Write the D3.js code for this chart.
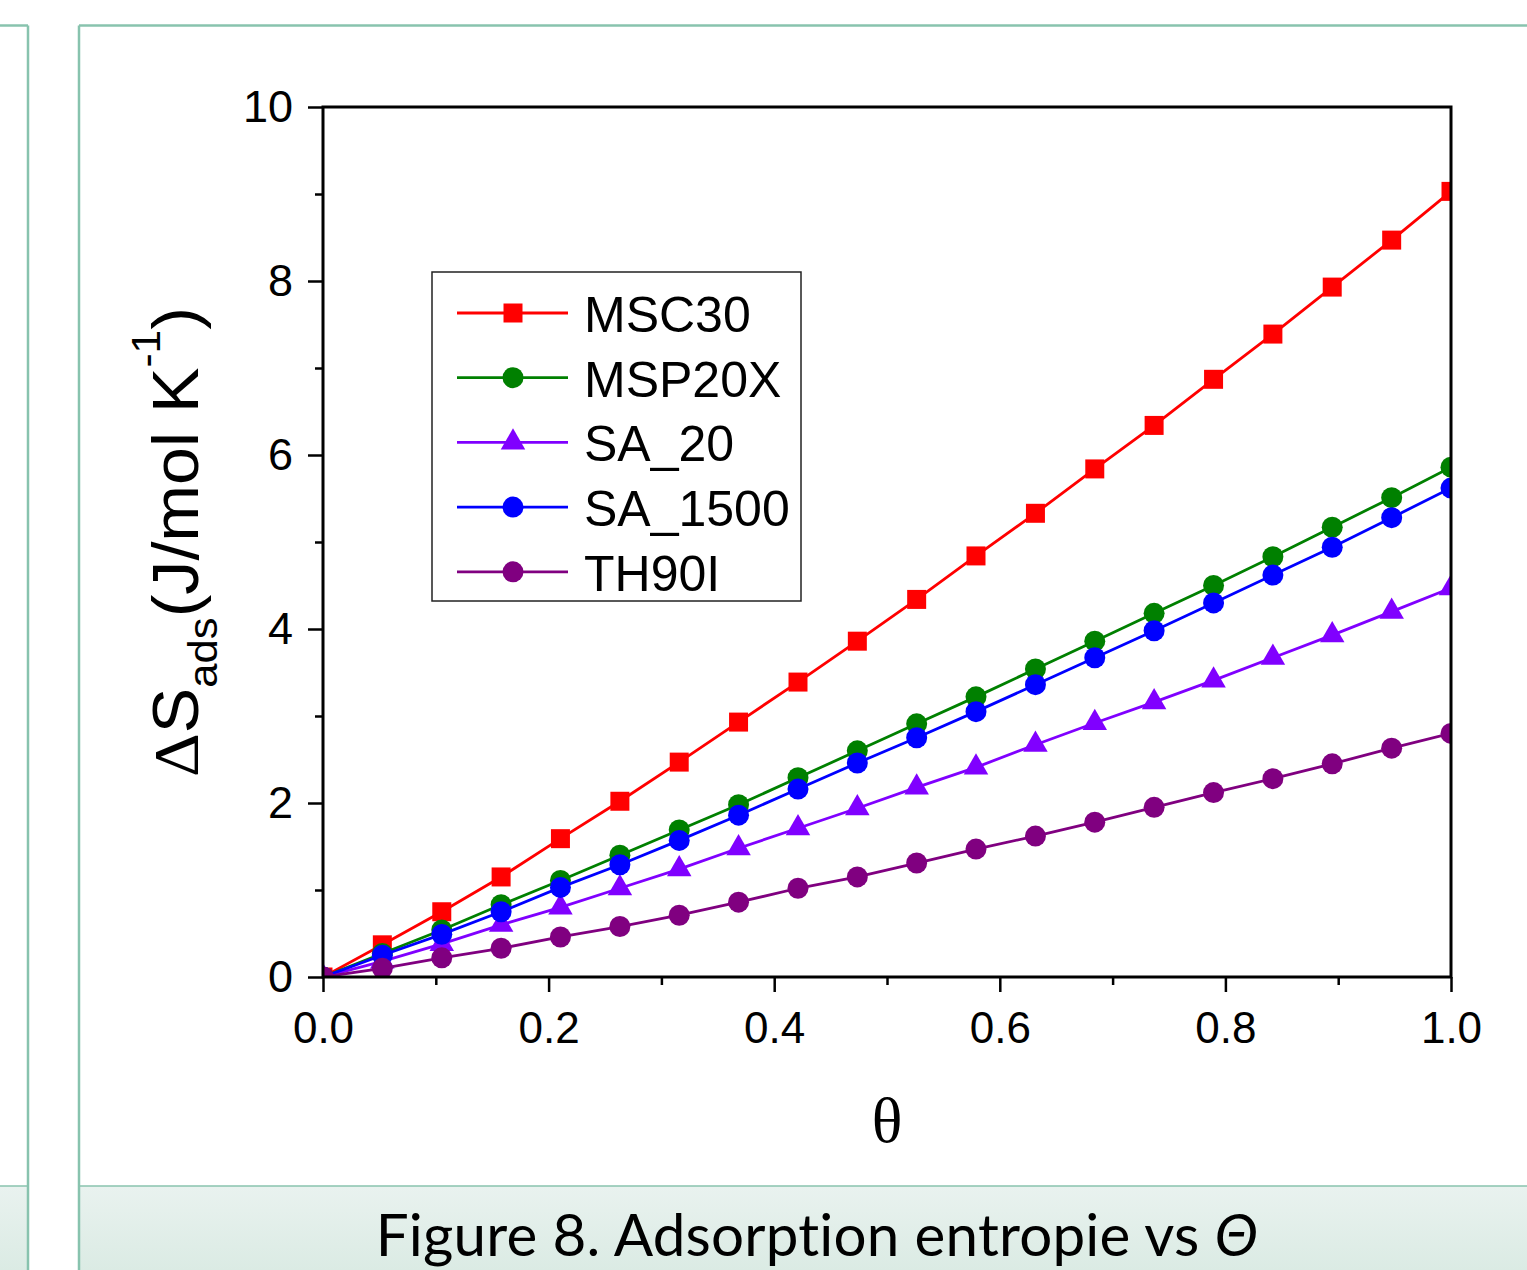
<!DOCTYPE html>
<html>
<head>
<meta charset="utf-8">
<script src="https://cdn.jsdelivr.net/npm/d3@7"></script>
<style>
  body { margin: 0; background: #fff; }
  svg { display: block; }
</style>
</head>
<body>
<svg id="chart" width="1527" height="1270"></svg>
<script>
// ---- data ----
const theta = [0, 0.0526, 0.1053, 0.1579, 0.2105, 0.2632, 0.3158, 0.3684, 0.4211, 0.4737,
               0.5263, 0.5789, 0.6316, 0.6842, 0.7368, 0.7895, 0.8421, 0.8947, 0.9474, 1.0];
const MSC30   = [0, 0.37, 0.75, 1.15, 1.59, 2.02, 2.47, 2.93, 3.39, 3.86, 4.34, 4.84, 5.33, 5.84, 6.34, 6.87, 7.39, 7.93, 8.47, 9.03];
const MSP20X  = [0, 0.27, 0.54, 0.83, 1.11, 1.40, 1.69, 1.98, 2.29, 2.60, 2.91, 3.22, 3.54, 3.86, 4.18, 4.50, 4.83, 5.17, 5.51, 5.86];
const SA_20   = [0, 0.18, 0.38, 0.60, 0.80, 1.02, 1.24, 1.48, 1.71, 1.94, 2.18, 2.41, 2.67, 2.92, 3.16, 3.41, 3.67, 3.93, 4.20, 4.47];
const SA_1500 = [0, 0.25, 0.49, 0.75, 1.03, 1.29, 1.57, 1.86, 2.16, 2.46, 2.75, 3.05, 3.36, 3.67, 3.98, 4.30, 4.62, 4.94, 5.28, 5.62];
const TH90I   = [0, 0.10, 0.22, 0.33, 0.46, 0.58, 0.71, 0.86, 1.02, 1.15, 1.31, 1.47, 1.62, 1.78, 1.95, 2.12, 2.28, 2.45, 2.63, 2.80];
const seriesNames = ["MSC30", "MSP20X", "SA_20", "SA_1500", "TH90I"];
const seriesValues = [MSC30, MSP20X, SA_20, SA_1500, TH90I];
const seriesColors = ["#ff0000", "#008000", "#8000ff", "#0000ff", "#800080"];
const seriesSymbols = ["square", "circle", "triangle", "circle", "circle"];
const xTicks = [0, 0.2, 0.4, 0.6, 0.8, 1.0];
const xMinorTicks = [0.1, 0.3, 0.5, 0.7, 0.9];
const yTicks = [0, 2, 4, 6, 8, 10];
const yMinorTicks = [1, 3, 5, 7, 9];
const captionText = "Figure 8. Adsorption entropie vs ";
const captionSymbol = "Θ";

// ---- layout ----
const svg = d3.select("#chart");
const W = 1527, H = 1270;
const plot = { left: 323, right: 1451, top: 107, bottom: 977 };
const frameColor = "#88c3ae";

const defs = svg.append("defs");
const grad = defs.append("linearGradient").attr("id", "band").attr("x1", 0).attr("y1", 0).attr("x2", 0).attr("y2", 1);
grad.append("stop").attr("offset", "0%").attr("stop-color", "#e9f2ef");
grad.append("stop").attr("offset", "100%").attr("stop-color", "#dbebe4");
defs.append("clipPath").attr("id", "plotclip").append("rect")
  .attr("x", plot.left).attr("y", plot.top - 20)
  .attr("width", plot.right - plot.left).attr("height", plot.bottom - plot.top + 20);

// page frames
const frame = svg.append("g");
frame.append("rect").attr("x", 0).attr("y", 1186).attr("width", 28).attr("height", 84).attr("fill", "url(#band)");
frame.append("rect").attr("x", 79).attr("y", 1186).attr("width", W - 79).attr("height", 84).attr("fill", "url(#band)");
const frameLines = [
  [0, 25.5, 28, 25.5], [28, 25.5, 28, 1270],
  [79, 25.5, W, 25.5], [79, 25.5, 79, 1270],
  [0, 1186, 28, 1186], [79, 1186, W, 1186]
];
frame.selectAll("line").data(frameLines).join("line")
  .attr("x1", d => d[0]).attr("y1", d => d[1]).attr("x2", d => d[2]).attr("y2", d => d[3])
  .attr("stroke", frameColor).attr("stroke-width", (d, i) => i >= 4 ? 1.5 : 2.5);

// caption
const cap = svg.append("text").attr("x", 817).attr("y", 1256).attr("text-anchor", "middle")
  .attr("font-family", "Lato, 'Open Sans', sans-serif").attr("font-size", 56).attr("fill", "#000")
  .attr("letter-spacing", 0.2)
  .style("font-variant-ligatures", "none").style("font-feature-settings", "'liga' 0, 'clig' 0, 'dlig' 0");
cap.append("tspan").text(captionText);
cap.append("tspan").attr("font-style", "italic").text(captionSymbol);
{
  const w = cap.node().getComputedTextLength();
  cap.attr("font-size", 56 * 883 / w);
}

// scales
const x = d3.scaleLinear().domain([0, 1]).range([plot.left, plot.right]);
const y = d3.scaleLinear().domain([0, 10]).range([plot.bottom, plot.top]);

const axisFont = "'Liberation Sans', Arial, sans-serif";

// minor ticks
svg.append("g").attr("transform", `translate(0,${plot.bottom})`)
  .call(d3.axisBottom(x).tickValues(xMinorTicks).tickSize(8).tickFormat(""))
  .call(g => g.select(".domain").remove())
  .call(g => g.selectAll("line").attr("stroke", "#000").attr("stroke-width", 2.5));
svg.append("g").attr("transform", `translate(${plot.left},0)`)
  .call(d3.axisLeft(y).tickValues(yMinorTicks).tickSize(8).tickFormat(""))
  .call(g => g.select(".domain").remove())
  .call(g => g.selectAll("line").attr("stroke", "#000").attr("stroke-width", 2.5));

// major axes
svg.append("g").attr("transform", `translate(0,${plot.bottom})`)
  .call(d3.axisBottom(x).tickValues(xTicks).tickSize(15).tickSizeOuter(0).tickPadding(20).tickFormat(d3.format(".1f")))
  .call(g => g.select(".domain").remove())
  .call(g => g.selectAll("line").attr("stroke", "#000").attr("stroke-width", 2.5))
  .call(g => g.selectAll("text").attr("font-family", axisFont).attr("font-size", 44).attr("fill", "#000"));
svg.append("g").attr("transform", `translate(${plot.left},0)`)
  .call(d3.axisLeft(y).tickValues(yTicks).tickSize(15).tickSizeOuter(0).tickPadding(15).tickFormat(d3.format("d")))
  .call(g => g.select(".domain").remove())
  .call(g => g.selectAll("line").attr("stroke", "#000").attr("stroke-width", 2.5))
  .call(g => g.selectAll("text").attr("font-family", axisFont).attr("font-size", 45).attr("fill", "#000"));

// series
const symbolFor = s => s === "square" ? d3.symbolSquare : s === "triangle" ? d3.symbolTriangle : d3.symbolCircle;
const sizeFor = s => s === "square" ? 361 : s === "triangle" ? 260 : 346;
const line = d3.line().x((d, i) => x(theta[i])).y(d => y(d));
const dataG = svg.append("g").attr("clip-path", "url(#plotclip)");
seriesValues.forEach((vals, k) => {
  const g = dataG.append("g");
  g.append("path").datum(vals).attr("d", line).attr("fill", "none")
    .attr("stroke", seriesColors[k]).attr("stroke-width", 2.8);
  g.selectAll("path.m").data(vals).join("path").attr("class", "m")
    .attr("transform", (d, i) => `translate(${x(theta[i])},${y(d)})`)
    .attr("d", d3.symbol().type(symbolFor(seriesSymbols[k])).size(sizeFor(seriesSymbols[k])))
    .attr("fill", seriesColors[k]);
});

// frame box
svg.append("rect").attr("x", plot.left).attr("y", plot.top)
  .attr("width", plot.right - plot.left).attr("height", plot.bottom - plot.top)
  .attr("fill", "none").attr("stroke", "#000").attr("stroke-width", 3);

// axis titles
svg.append("text").attr("x", (plot.left + plot.right) / 2).attr("y", 1142)
  .attr("text-anchor", "middle").attr("font-family", "'Liberation Serif', 'Times New Roman', serif")
  .attr("font-size", 64).attr("fill", "#000").text("θ");

const yt = svg.append("text").attr("text-anchor", "middle")
  .attr("font-family", axisFont).attr("font-size", 64).attr("fill", "#000");
yt.append("tspan").attr("font-family", "'Liberation Serif', serif").text("Δ");
yt.append("tspan").text("S");
yt.append("tspan").attr("font-size", 41).attr("dy", 19).text("ads");
yt.append("tspan").attr("dy", -19).text("(J/mol K");
yt.append("tspan").attr("font-size", 40).attr("dy", -38).text("-1");
yt.append("tspan").attr("dy", 38).text(")");
{
  const len = yt.node().getComputedTextLength();
  const sx = 470 / len;
  yt.attr("transform", `translate(198,542) rotate(-90) scale(${sx},1)`);
}

// legend
const lg = svg.append("g");
lg.append("rect").attr("x", 432).attr("y", 272).attr("width", 369).attr("height", 329)
  .attr("fill", "#fff").attr("stroke", "#222").attr("stroke-width", 1.5);
const rowY = i => 313 + i * 64.7;
seriesNames.forEach((name, k) => {
  const ry = rowY(k);
  lg.append("line").attr("x1", 457).attr("x2", 568).attr("y1", ry).attr("y2", ry)
    .attr("stroke", seriesColors[k]).attr("stroke-width", 2.8);
  lg.append("path").attr("transform", `translate(513,${ry})`)
    .attr("d", d3.symbol().type(symbolFor(seriesSymbols[k])).size(sizeFor(seriesSymbols[k])))
    .attr("fill", seriesColors[k]);
  lg.append("text").attr("x", 584).attr("y", ry + 19).attr("font-family", axisFont)
    .attr("font-size", 50).attr("fill", "#000").text(name);
});
</script>
</body>
</html>
